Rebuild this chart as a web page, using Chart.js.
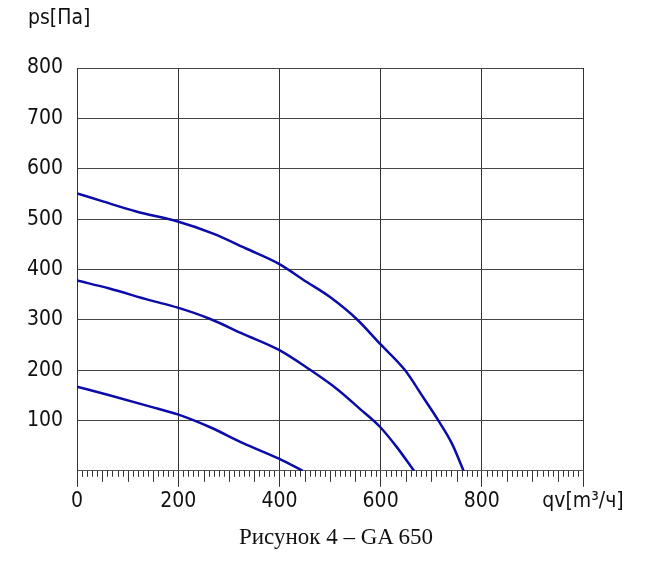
<!DOCTYPE html>
<html>
<head>
<meta charset="utf-8">
<script src="https://cdn.jsdelivr.net/npm/chart.js@4"></script>
<style>
  body { margin: 0; background: #fff; }
  #wrap { position: relative; width: 657px; height: 566px; }
  #ytitle {
    position: absolute; left: 28px; top: 5px;
    font-family: 'DejaVu Sans Condensed', 'DejaVu Sans', sans-serif; font-size: 21px; color: #111;
  }
  #caption {
    position: absolute; left: 0; width: 672px; top: 524px;
    text-align: center; font-family: 'Liberation Serif', serif; font-size: 23px; color: #111;
  }
</style>
</head>
<body>
<div id="wrap">
  <canvas id="fanChart" width="657" height="566"></canvas>
  <div id="ytitle">ps[Па]</div>
  <div id="caption">Рисунок 4 – GA 650</div>
</div>
<script>
// Curve data (qv in m3/h, ps in Pa)
const qvTop = [0, 51, 117, 199, 269, 335, 399, 454, 500, 553, 599, 648, 684, 714, 741, 764];
const psTop = [551, 535, 515, 495, 471, 441, 411, 375, 345, 301, 252, 200, 146, 100, 54, 0];

const qvMid = [0, 64, 143, 199, 262, 328, 399, 457, 513, 559, 599, 632, 666];
const psMid = [378, 362, 339, 324, 302, 272, 240, 203, 163, 123, 87, 47, 0];

const qvLow = [0, 64, 143, 199, 262, 328, 399, 446];
const psLow = [167, 150, 128, 112, 87, 55, 24, 0];

// Axis ticks
const xTicks = [0, 200, 400, 600, 800, 1000];
const yTicks = [100, 200, 300, 400, 500, 600, 700, 800];

const tickFont = { family: "'DejaVu Sans Condensed', 'DejaVu Sans', sans-serif", size: 21, weight: 'normal' };
const lineColor = 'rgb(12,12,170)';

// Function to pair x and y arrays into points
function toPoints(xs, ys) {
    return xs.map((x, i) => ({ x: x, y: ys[i] }));
}

function curve(xs, ys) {
    return {
        data: toPoints(xs, ys),
        borderColor: lineColor,
        borderWidth: 2.5,
        pointRadius: 0,
        cubicInterpolationMode: 'monotone',
        fill: false
    };
}

// Small ticks along the bottom axis every 10, longer every 50
const minorTicks = {
    id: 'minorTicks',
    afterDatasetsDraw(chart) {
        const ctx = chart.ctx;
        const x = chart.scales.x;
        const bottom = chart.chartArea.bottom;
        ctx.save();
        ctx.strokeStyle = '#333';
        ctx.lineWidth = 1;
        for (let v = 10; v < 1000; v += 10) {
            if (v % 200 === 0) continue;
            const px = Math.round(x.getPixelForValue(v)) + 0.5;
            const len = v % 50 === 0 ? 11 : 6;
            ctx.beginPath();
            ctx.moveTo(px, bottom);
            ctx.lineTo(px, bottom + len);
            ctx.stroke();
        }
        ctx.restore();
    }
};

const ctx = document.getElementById('fanChart').getContext('2d');
new Chart(ctx, {
    type: 'line',
    data: {
        datasets: [curve(qvTop, psTop), curve(qvMid, psMid), curve(qvLow, psLow)]
    },
    options: {
        responsive: false,
        animation: false,
        layout: { padding: { left: 13, right: 74, top: 68, bottom: 50 } },
        plugins: {
            legend: { display: false },
            tooltip: { enabled: false }
        },
        scales: {
            x: {
                type: 'linear',
                min: 0,
                max: 1000,
                afterBuildTicks: axis => { axis.ticks = xTicks.map(v => ({ value: v })); },
                ticks: {
                    font: tickFont,
                    color: '#111',
                    padding: 2,
                    maxRotation: 0,
                    autoSkip: false,
                    callback: v => v === 1000 ? 'qv[m³/ч]' : v
                },
                grid: { color: '#333', tickColor: '#333', tickLength: 16 },
                border: { color: '#555' }
            },
            y: {
                min: 0,
                max: 800,
                afterBuildTicks: axis => { axis.ticks = [0].concat(yTicks).map(v => ({ value: v })); },
                ticks: {
                    font: tickFont,
                    color: '#111',
                    padding: 14,
                    callback: v => v === 0 ? '' : v
                },
                grid: { color: '#444', drawTicks: false },
                border: { color: '#333' }
            }
        }
    },
    plugins: [minorTicks]
});
</script>
</body>
</html>
